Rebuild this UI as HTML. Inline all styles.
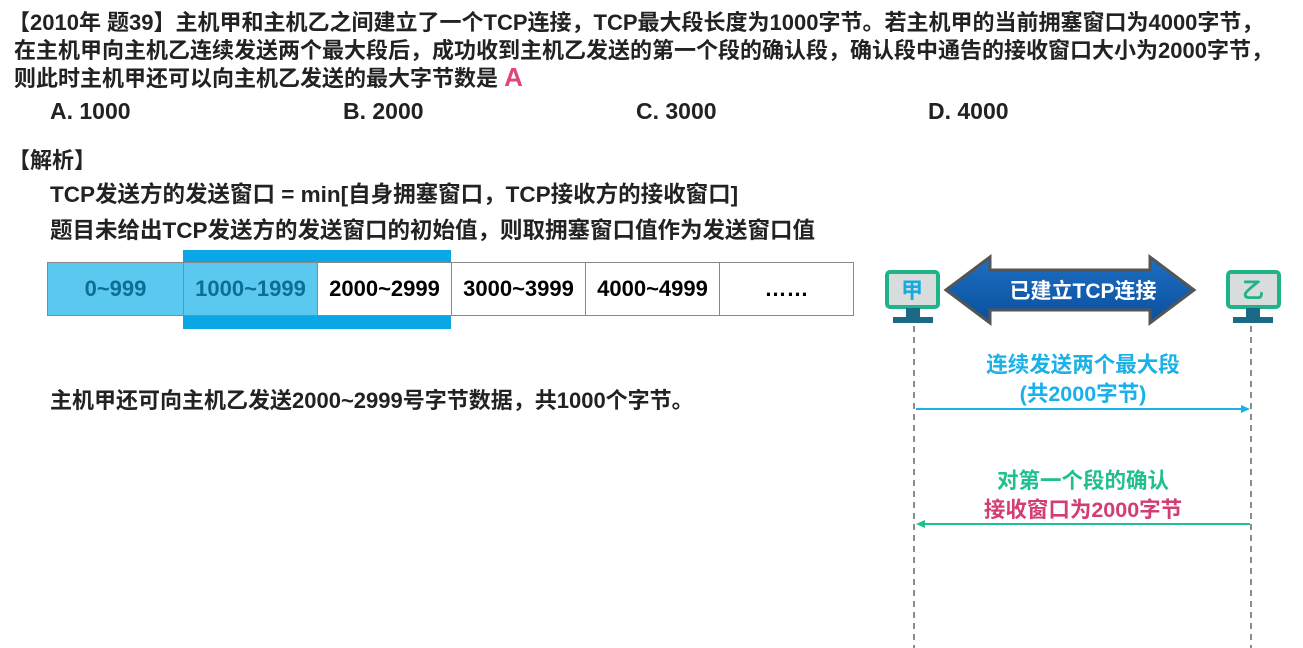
<!DOCTYPE html>
<html><head><meta charset="utf-8"><style>
body{margin:0;width:1303px;height:648px;background:#fff;position:relative;overflow:hidden;font-family:"Liberation Sans","Noto Sans CJK SC",sans-serif;font-weight:bold;color:#222}
.t{position:absolute;white-space:nowrap;font-size:22px}
.cell{position:absolute;top:262px;height:54px;border:1px solid #888;box-sizing:border-box;display:flex;align-items:center;justify-content:center;font-size:22px;font-family:"Liberation Sans Narrow","Liberation Sans",sans-serif}
</style></head><body>
<div class="t" style="left:8px;top:5px">【2010年 题39】主机甲和主机乙之间建立了一个TCP连接，TCP最大段长度为1000字节。若主机甲的当前拥塞窗口为4000字节，</div>
<div class="t" style="left:14px;top:33px">在主机甲向主机乙连续发送两个最大段后，成功收到主机乙发送的第一个段的确认段，确认段中通告的接收窗口大小为2000字节，</div>
<div class="t" style="left:14px;top:61px">则此时主机甲还可以向主机乙发送的最大字节数是 <span style="color:#e0457b;font-size:26px">A</span></div>
<div class="t" style="left:50px;top:98px;font-size:23px">A. 1000</div>
<div class="t" style="left:343px;top:98px;font-size:23px">B. 2000</div>
<div class="t" style="left:636px;top:98px;font-size:23px">C. 3000</div>
<div class="t" style="left:928px;top:98px;font-size:23px">D. 4000</div>
<div class="t" style="left:8px;top:143px">【解析】</div>
<div class="t" style="left:50px;top:177px;font-size:22.5px">TCP发送方的发送窗口 = min[自身拥塞窗口，TCP接收方的接收窗口]</div>
<div class="t" style="left:50px;top:213px;font-size:22.5px">题目未给出TCP发送方的发送窗口的初始值，则取拥塞窗口值作为发送窗口值</div>
<div style="position:absolute;left:183px;top:250px;width:268px;height:79px;background:#0aa6e6"></div>
<div class="cell" style="left:47px;width:137px;background:#5bc8f0;color:#0d6e95">0~999</div>
<div class="cell" style="left:183px;width:135px;background:#5bc8f0;color:#0d6e95">1000~1999</div>
<div class="cell" style="left:317px;width:135px;background:#fff;color:#000">2000~2999</div>
<div class="cell" style="left:451px;width:135px;background:#fff;color:#000">3000~3999</div>
<div class="cell" style="left:585px;width:135px;background:#fff;color:#000">4000~4999</div>
<div class="cell" style="left:719px;width:135px;background:#fff;color:#000">……</div>
<div class="t" style="left:50px;top:383px">主机甲还可向主机乙发送2000~2999号字节数据，共1000个字节。</div>
<svg style="position:absolute;left:0;top:0" width="1303" height="648">
<defs><linearGradient id="g" x1="0" y1="0" x2="0" y2="1"><stop offset="0" stop-color="#1d6fc4"/><stop offset="1" stop-color="#0b4f9c"/></linearGradient></defs>
<polygon points="946,290 990,257 990,270 1150,270 1150,257 1194,290 1150,323 1150,310 990,310 990,323" fill="url(#g)" stroke="#555" stroke-width="3"/>
<text x="1083" y="298" fill="#fff" font-size="21" font-weight="bold" text-anchor="middle" font-family="Liberation Sans,Noto Sans CJK SC,sans-serif">已建立TCP连接</text>
<rect x="887" y="272" width="51" height="35" rx="3" fill="#d9dcdd" stroke="#1fb38a" stroke-width="4"/>
<text x="912" y="298" fill="#19a8e0" font-size="22" font-weight="bold" text-anchor="middle" font-family="Noto Sans CJK SC,sans-serif">甲</text>
<rect x="906" y="308" width="14" height="10" fill="#1a6a86"/><rect x="893" y="317" width="40" height="6" fill="#1a6a86"/>
<rect x="1228" y="272" width="51" height="35" rx="3" fill="#d9dcdd" stroke="#1fb38a" stroke-width="4"/>
<text x="1253" y="298" fill="#1fb38a" font-size="22" font-weight="bold" text-anchor="middle" font-family="Noto Sans CJK SC,sans-serif">乙</text>
<rect x="1246" y="308" width="14" height="10" fill="#1a6a86"/><rect x="1233" y="317" width="40" height="6" fill="#1a6a86"/>
<line x1="914" y1="326" x2="914" y2="648" stroke="#666" stroke-dasharray="6,5" stroke-width="1.5"/>
<line x1="1251" y1="326" x2="1251" y2="648" stroke="#666" stroke-dasharray="6,5" stroke-width="1.5"/>
<g font-size="21.5" font-weight="bold" text-anchor="middle" font-family="Liberation Sans,Noto Sans CJK SC,sans-serif">
<text x="1083" y="372" fill="#1ab0e8">连续发送两个最大段</text>
<text x="1083" y="401" fill="#1ab0e8">(共2000字节)</text>
<text x="1083" y="488" fill="#1fbf8f">对第一个段的确认</text>
<text x="1083" y="517" fill="#d13d74">接收窗口为2000字节</text>
</g>
<line x1="916" y1="409" x2="1244" y2="409" stroke="#1ab0e8" stroke-width="2"/>
<polygon points="1250,409 1241,405 1241,413" fill="#1ab0e8"/>
<line x1="922" y1="524" x2="1250" y2="524" stroke="#1fbf8f" stroke-width="2"/>
<polygon points="916,524 925,520 925,528" fill="#1fbf8f"/>
</svg>
</body></html>
